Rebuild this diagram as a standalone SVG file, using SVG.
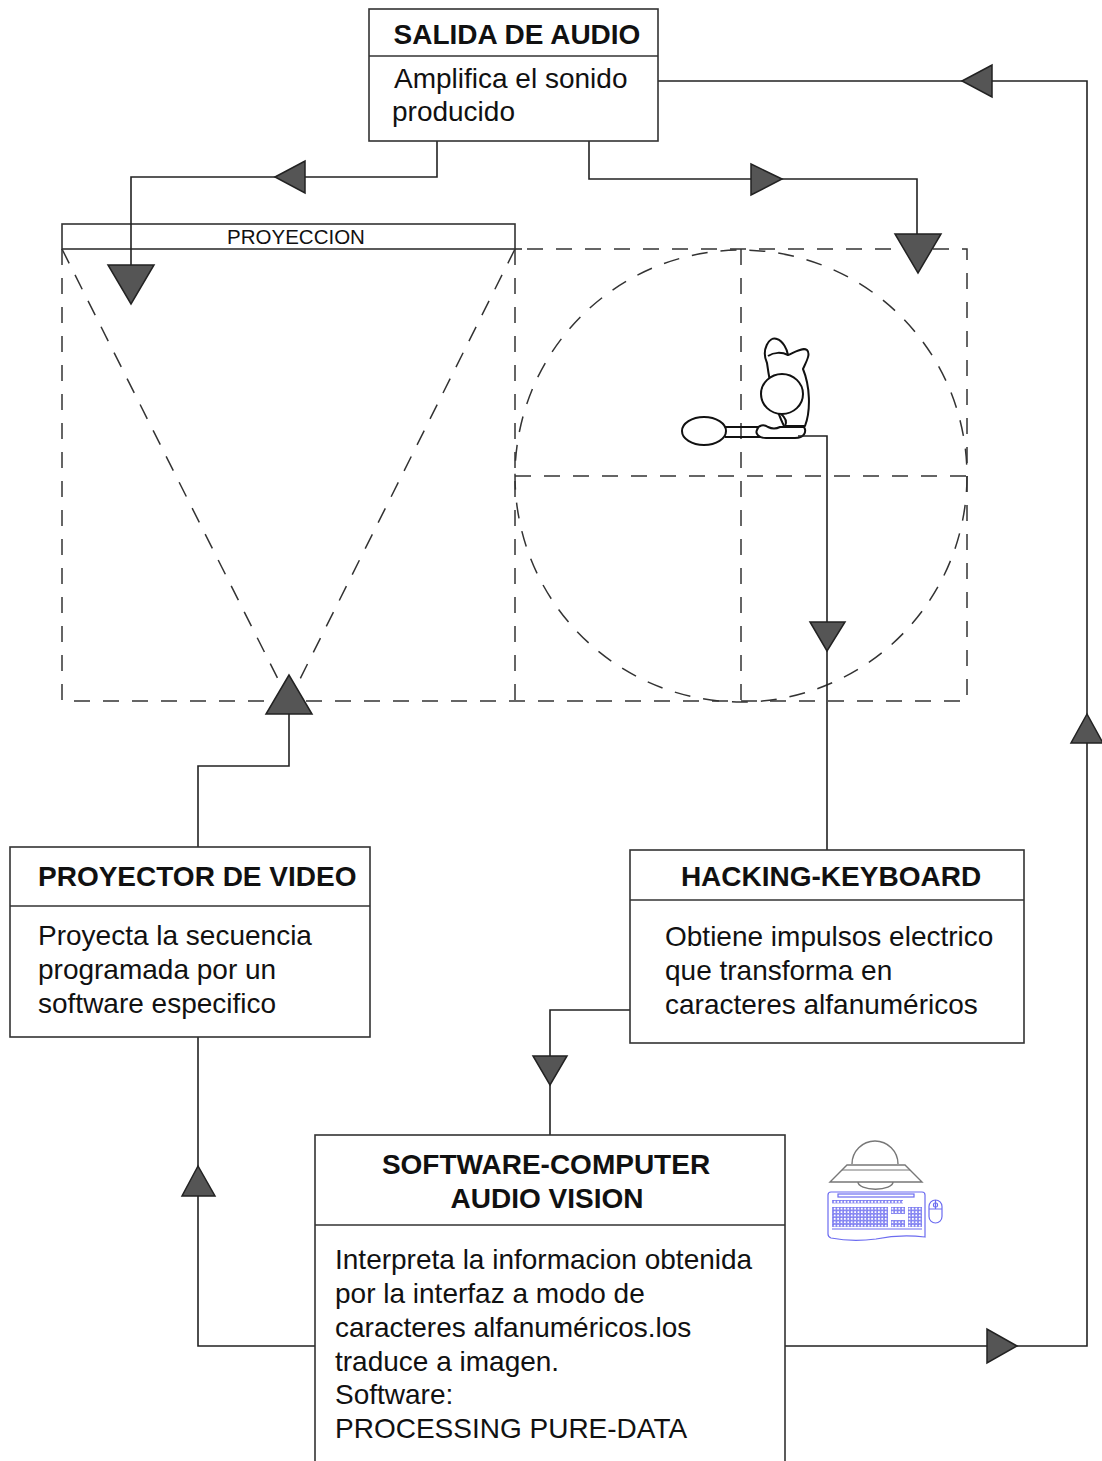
<svg xmlns="http://www.w3.org/2000/svg" width="1102" height="1461" viewBox="0 0 1102 1461">
  <style>
    .box { fill: #ffffff; stroke: #333333; stroke-width: 1.6; }
    .div { stroke: #333333; stroke-width: 1.6; fill: none; }
    .title { font-family: "Liberation Sans", Arial, sans-serif; font-weight: bold; font-size: 28px; fill: #111111; }
    .body { font-family: "Liberation Sans", Arial, sans-serif; font-size: 28px; fill: #111111; }
    .small { font-family: "Liberation Sans", Arial, sans-serif; font-size: 20.5px; fill: #111111; }
    .wire { fill: none; stroke: #222222; stroke-width: 1.6; }
    .dash { fill: none; stroke: #333333; stroke-width: 1.5; stroke-dasharray: 16 13; }
    .head { fill: #555555; stroke: #222222; stroke-width: 1.5; stroke-linejoin: miter; }
    .fig { fill: #ffffff; stroke: #111111; stroke-width: 2; stroke-linejoin: round; }
    .kb { fill: none; stroke: #6c6cf0; stroke-width: 1.2; }
    .dome { fill: #ffffff; stroke: #777777; stroke-width: 1.4; }
  </style>
  <defs>
    <pattern id="keys" x="0" y="0" width="3.4" height="3.4" patternUnits="userSpaceOnUse">
      <rect x="0.3" y="0.3" width="2.6" height="2.6" fill="none" stroke="#6c6cf0" stroke-width="0.7"/>
    </pattern>
  </defs>

  <!-- projection area -->
  <g id="proyeccion">
    <rect x="62" y="224" width="453" height="25" class="box"/>
    <text x="296" y="244" text-anchor="middle" class="small">PROYECCION</text>
    <line x1="515" y1="249" x2="522" y2="249" class="div"/>
    <path d="M62,249 V701 H967 V249 H515" class="dash"/>
    <line x1="515" y1="249" x2="515" y2="701" class="dash"/>
    <line x1="741" y1="249" x2="741" y2="701" class="dash"/>
    <line x1="515" y1="476" x2="967" y2="476" class="dash"/>
    <line x1="62" y1="249" x2="289" y2="701" class="dash"/>
    <line x1="515" y1="249" x2="289" y2="701" class="dash"/>
    <circle cx="741" cy="476" r="226" class="dash"/>
  </g>

  <!-- seated figure -->
  <g id="figura">
    <path d="M767,363 C761,350 769,336 777,339 C783,341 787,349 788,355 C795,352 803,347 807,350 C811,354 806,362 803,369 C810,386 811,410 805,426 L784,426 C776,410 770,385 767,363 Z" class="fig"/>
    <path d="M768,356 C774,352 782,352 788,355" class="fig" fill="none"/>
    <ellipse cx="782" cy="394" rx="21" ry="20" class="fig"/>
    <path d="M781,414 C786,418 787,422 785,426" class="fig" fill="none"/>
    <ellipse cx="704" cy="431" rx="22" ry="14" class="fig"/>
    <path d="M725,427 H759 M725,437 H760" class="fig"/>
    <path d="M757,430 C758,425 764,424 768,427 C772,429 776,429 780,427 L804,427 C807,432 804,438 795,438 L766,438 C759,438 755,434 757,430 Z" class="fig"/>
  </g>

  <!-- computer icon -->
  <g id="computadora">
    <path d="M852,1164 A23,23 0 0 1 898,1164" class="dome"/>
    <path d="M858,1182 A17,7 0 0 0 893,1182" class="dome"/>
    <path d="M847,1165 H905 L922,1182 H830 Z" class="dome"/>
    <line x1="842" y1="1170" x2="910" y2="1170" stroke="#777777" stroke-width="1"/>
    <path d="M831,1192 H922 Q925,1192 925,1195 V1237 Q900,1234 876,1239 Q852,1242 831,1238 Q828,1237 828,1234 V1195 Q828,1192 831,1192 Z" class="kb"/>
    <rect x="838" y="1194" width="76" height="3" fill="url(#keys)" class="kb"/>
    <rect x="832" y="1200" width="71" height="3.4" fill="url(#keys)"/>
    <rect x="832" y="1207" width="56" height="20" fill="url(#keys)"/>
    <rect x="891" y="1207" width="14" height="7" fill="url(#keys)"/>
    <rect x="891" y="1220" width="14" height="7" fill="url(#keys)"/>
    <rect x="908" y="1207" width="14" height="20" fill="url(#keys)"/>
    <path d="M832,1229 H922" class="kb"/>
    <rect x="929" y="1200" width="13" height="23" rx="6.5" class="kb"/>
    <path d="M929,1209 H942 M935.5,1200 V1209" class="kb"/>
    <rect x="933.5" y="1203" width="4" height="4" rx="1.5" class="kb"/>
  </g>

  <!-- connectors -->
  <g id="conectores">
    <path d="M658,81 H1087 V1346 H785" class="wire"/>
    <path d="M437,141 V177 H131 V265" class="wire"/>
    <path d="M589,141 V179 H917 V234" class="wire"/>
    <path d="M198,847 V766 H289 V714" class="wire"/>
    <path d="M198,1037 V1346 H315" class="wire"/>
    <path d="M798,436 H827 V850" class="wire"/>
    <path d="M630,1010 H550 V1135" class="wire"/>

    <polygon points="962,81 992,65 992,97" class="head"/>
    <polygon points="1087,714 1071,743 1103,743" class="head"/>
    <polygon points="1017,1346 987,1329 987,1363" class="head"/>
    <polygon points="275,177 305,161 305,193" class="head"/>
    <polygon points="108,265 154,265 131,304" class="head"/>
    <polygon points="782,179 751,164 751,195" class="head"/>
    <polygon points="895,234 941,234 918,273" class="head"/>
    <polygon points="289,675 266,714 312,714" class="head"/>
    <polygon points="810,622 845,622 827,651" class="head"/>
    <polygon points="533,1056 567,1056 550,1085" class="head"/>
    <polygon points="198,1166 182,1196 215,1196" class="head"/>
  </g>

  <g id="salida-audio">
    <rect x="369" y="9" width="289" height="132" class="box"/>
    <line x1="369" y1="56" x2="658" y2="56" class="div"/>
    <text x="517" y="44" text-anchor="middle" class="title">SALIDA DE AUDIO</text>
    <text x="394" y="88" class="body">Amplifica el sonido</text>
    <text x="392" y="121" class="body">producido</text>
  </g>

  <g id="proyector-video">
    <rect x="10" y="847" width="360" height="190" class="box"/>
    <line x1="10" y1="906" x2="370" y2="906" class="div"/>
    <text x="38" y="886" class="title">PROYECTOR DE VIDEO</text>
    <text x="38" y="945" class="body">Proyecta la secuencia</text>
    <text x="38" y="979" class="body">programada por un</text>
    <text x="38" y="1013" class="body">software especifico</text>
  </g>

  <g id="hacking-keyboard">
    <rect x="630" y="850" width="394" height="193" class="box"/>
    <line x1="630" y1="900" x2="1024" y2="900" class="div"/>
    <text x="831" y="886" text-anchor="middle" class="title">HACKING-KEYBOARD</text>
    <text x="665" y="946" class="body">Obtiene impulsos electrico</text>
    <text x="665" y="980" class="body">que transforma en</text>
    <text x="665" y="1014" class="body">caracteres alfanuméricos</text>
  </g>

  <g id="software-computer">
    <rect x="315" y="1135" width="470" height="340" class="box"/>
    <line x1="315" y1="1225" x2="785" y2="1225" class="div"/>
    <text x="546" y="1174" text-anchor="middle" class="title">SOFTWARE-COMPUTER</text>
    <text x="547" y="1208" text-anchor="middle" class="title">AUDIO VISION</text>
    <text x="335" y="1269" class="body">Interpreta la informacion obtenida</text>
    <text x="335" y="1303" class="body">por la interfaz a modo de</text>
    <text x="335" y="1337" class="body">caracteres alfanuméricos.los</text>
    <text x="335" y="1371" class="body">traduce a imagen.</text>
    <text x="335" y="1404" class="body">Software:</text>
    <text x="335" y="1438" class="body">PROCESSING PURE-DATA</text>
  </g>
</svg>
